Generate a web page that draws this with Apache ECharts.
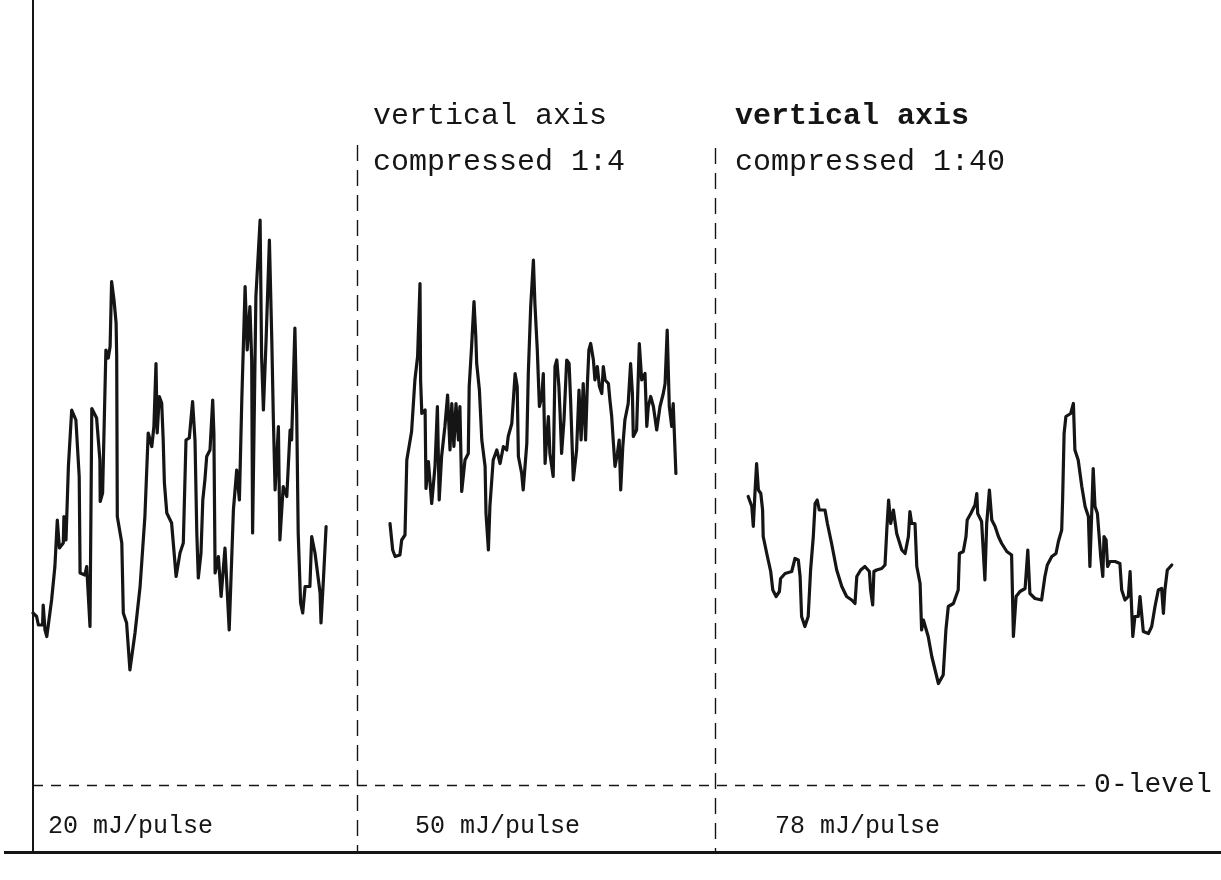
<!DOCTYPE html>
<html>
<head>
<meta charset="utf-8">
<script src="https://cdn.jsdelivr.net/npm/echarts@6/dist/echarts.min.js"></script>
<style>
  html, body { margin: 0; padding: 0; background: #fff; }
  #chart { width: 1221px; height: 880px; }
</style>
</head>
<body>
<div id="chart"></div>
<script>
// Time (arbitrary units) and signal amplitude above the 0-level, one trace per pulse energy.
const trace20mJ = [
  [0,34.4],[1.2,33.7],[1.8,32],[3.2,32],[3.4,36],[4,31],[4.6,29.7],[6.2,37],[7.3,43.7],[8.1,53],
  [8.8,47.4],[10.1,48.4],[10.3,53.7],[11,49],[11.8,63.7],[12.9,75],[14.3,73],[15.4,61.7],[15.7,42.4],[17.3,42],
  [17.9,43.7],[19,31.7],[19.6,75.3],[21.2,73.4],[22.3,65],[22.4,56.7],[23.2,58.4],[24.3,87],[25.1,85.4],[25.7,87.7],
  [26.2,100.7],[27,97],[27.7,92.4],[27.9,85.7],[28.1,53.7],[29.6,48.4],[30.1,34.4],[31.2,32.4],[32.3,23],[34,30.4],
  [35.7,39.7],[37.3,53.7],[38.4,70.4],[39.6,67.7],[40.3,71.7],[41,84.3],[41.4,70.4],[42.1,77.7],[42.9,76.4],[43.4,69],
  [43.8,60.4],[44.6,54.4],[46.2,52.4],[47.7,41.7],[49,46.4],[50.1,48.4],[51,69],[52.1,69.4],[53.2,76.7],[54,69],
  [54.6,50.4],[55.1,41.4],[56,46.4],[56.6,57],[57.3,61],[57.9,65.7],[59,67],[59.9,77],[60.3,70.4],[60.7,42.4],
  [61.8,45.7],[62.7,37.7],[64,47.4],[65.4,31],[66.8,55],[67.9,63],[68.8,57],[69.6,77],[70.7,99.7],[71.4,87],
  [72.3,95.7],[72.9,85],[73.2,50.4],[74.3,97.7],[75.7,113],[76.2,85.7],[76.8,75],[77.7,89],[78.8,109],[79.6,89],
  [80.1,73.7],[80.7,59],[81.8,71.7],[82.3,49],[83.4,59.7],[84.6,57.7],[85.7,71],[86.2,69],[87.3,91.4],[87.9,74.4],
  [88.4,50.4],[89.2,36.4],[89.9,34.4],[90.7,39.7],[92.3,39.7],[92.9,49.7],[94,46.4],[95.7,38.4],[96,32.4],[96.8,41],
  [97.7,51.7]
];

const trace50mJ = [
  [119,52.3],[119.9,47],[120.7,45.7],[122.3,46],[122.9,49],[124,50],[124.6,65],[126.2,70.7],[127.3,81],[128.2,85.7],
  [129,100.3],[129.2,81],[129.6,74.3],[130.7,75],[131,59.3],[131.8,64.7],[132.9,56.3],[134,63.7],[134.8,75.7],[135.4,57],
  [136.2,65.7],[137.3,71.7],[138.2,78],[139,67],[139.6,76.3],[140.3,67.7],[141,76.3],[141.8,69],[142.3,75.7],[142.9,58.7],
  [144,65],[145.1,66.3],[145.4,79.7],[146.2,87.7],[147,96.7],[147.6,89.7],[147.9,84.3],[148.8,79],[149.6,69],[150.7,63.7],
  [151,54.3],[151.8,47],[152.3,55.7],[153.4,65],[154.6,67],[155.7,64.3],[156.8,67.7],[157.9,67],[158.4,69.7],[159.6,72.3],
  [160.7,82.3],[161.4,79.7],[161.8,65.7],[162.9,62.3],[163.4,59],[164.6,68.3],[165.1,82.3],[165.9,95.7],[166.8,105],[167.3,96.3],
  [168.1,87],[168.8,75.7],[169.6,77.7],[170.1,82.3],[170.7,64.3],[171.2,69],[171.8,73.7],[172.3,66.3],[173.4,61.7],[174,83.7],
  [174.6,85],[175.3,79.7],[175.7,74.3],[176.2,66.3],[177,73],[177.9,85],[178.7,84.3],[179.2,77],[180.1,61],[181.2,67],
  [182,79],[182.7,69],[183.4,80.3],[184.2,69],[184.8,80.3],[185.3,87],[185.9,88.3],[186.8,85],[187.3,81],[188.1,83.7],
  [188.8,79.7],[189.6,78.3],[190.1,83.7],[190.7,81],[191.8,80.3],[192.3,77],[192.9,73.7],[193.4,69],[194,63.7],[194.8,66.3],
  [195.4,69],[195.9,59],[196.6,67.7],[197.3,73],[198.4,76.3],[199.2,84.3],[199.8,78.3],[200.1,69.7],[201.2,71],[202.1,88.3],
  [202.9,81],[204,82.3],[204.6,71.7],[205.1,75.7],[205.9,77.7],[206.8,75.7],[207.9,71],[209,75.7],[210.1,78.3],[210.7,80.3],
  [211.4,91],[212.1,75.7],[212.9,71.7],[213.4,76.3],[214.3,62.3]
];

const trace78mJ = [
  [238.4,57.7],[239.6,55.7],[240.1,51.7],[240.7,59],[241.2,64.3],[241.8,59],[242.6,58.3],[243.2,55],[243.4,49.7],[244.8,45.7],
  [245.9,42.7],[246.6,39],[247.7,37.7],[248.8,38.7],[249.2,41.3],[250.7,42.3],[252.9,42.7],[254,45.3],[255.1,45],[255.7,41.7],
  [256.2,33.7],[257.3,31.7],[258.4,33.7],[259.2,43],[260.1,49.7],[260.7,56.3],[261.4,57],[262.1,55],[264,55],[264.8,52.3],
  [266.2,48.3],[267.9,43],[269.6,39.7],[271.2,37.7],[272.9,37],[274,36.3],[274.6,41.7],[275.9,43],[277.3,43.7],[278.8,42.7],
  [279.2,39],[279.9,36],[280.3,42.7],[281.2,43],[282.9,43.3],[284,44],[284.6,51],[285.2,57],[285.9,52.3],[286.8,55],
  [287.9,50.3],[289.6,47],[290.7,46.3],[291.8,49.7],[292.3,54.7],[292.9,52.3],[294,52.3],[294.6,43.7],[295.7,40.3],[296.2,31],
  [296.8,33],[298.4,29.7],[299.6,25.7],[300.7,23],[301.8,20.3],[303.4,22],[304.3,31],[305.1,35.7],[306.8,36.3],[308.4,39],
  [308.8,46.3],[310.1,46.7],[311,49.7],[311.4,53],[312.6,54.3],[314,56],[314.6,58.3],[314.9,54.3],[316.2,52.7],[317.3,41],
  [317.9,52.3],[318.8,59],[319.6,53],[320.7,51.7],[321.8,49.7],[322.9,48.3],[324.6,46.7],[326.2,46],[326.8,29.7],[327.7,37.7],
  [329,38.7],[330.7,39.3],[331.6,47],[332.3,38.3],[334,37.3],[336.2,37],[337.3,41.7],[338.1,44],[339.6,45.7],[341,46.3],
  [341.8,48.7],[342.9,51],[343.2,57],[343.7,70.3],[344.3,73.7],[345.9,74.3],[346.8,76.3],[347.3,67],[348.4,65],[349.6,59.7],
  [350.7,55.7],[351.8,53.7],[352.3,43.7],[352.9,54.3],[353.4,63.3],[354,55.7],[354.8,54.3],[355.9,45.7],[356.6,41.7],[357,49.7],
  [357.7,49],[358.2,43.7],[359,44.7],[360.7,44.7],[362.3,44.3],[362.9,39],[364,37],[365.1,37.7],[365.7,42.7],[366.6,29.7],
  [367.3,33.7],[368.4,33.7],[369,37.7],[370.1,30.7],[371.8,30.3],[372.9,31.7],[374,35.7],[375.1,39],[376.2,39.3],[376.8,34.3],
  [377.3,39],[378.1,43],[379.6,44]
];

// Panel boundaries on the time axis and their labels
const panelBounds = [108, 227.3];
const panelLabels = ['20 mJ/pulse', '50 mJ/pulse', '78 mJ/pulse'];
const zeroLevelEnd = 350.7;
const zeroLevelLabel = '0-level';

const mono = '"Liberation Mono", "DejaVu Sans Mono", monospace';
const ink = '#151515';

const chart = echarts.init(document.getElementById('chart'), null, { renderer: 'canvas' });

const traceSeries = (name, data) => ({
  name,
  type: 'line',
  data,
  showSymbol: false,
  symbol: 'none',
  smooth: false,
  silent: true,
  lineStyle: { color: ink, width: 3.2, join: 'round', cap: 'round' },
  z: 5
});

const s1 = traceSeries('20 mJ/pulse', trace20mJ);
s1.markLine = {
  silent: true,
  symbol: 'none',
  animation: false,
  data: [
    [
      { coord: [0, 0], lineStyle: { type: [10, 8], width: 1.4, color: ink },
        label: { show: true, position: 'end', formatter: zeroLevelLabel, color: ink,
                 fontFamily: mono, fontSize: 28, distance: 9 } },
      { coord: [zeroLevelEnd, 0] }
    ],
    [
      { coord: [panelBounds[0], 128], lineStyle: { type: [16, 9], width: 1.4, color: ink }, label: { show: false } },
      { coord: [panelBounds[0], -13.4] }
    ],
    [
      { coord: [panelBounds[1], 127.4], lineStyle: { type: [16, 9], width: 1.4, color: ink }, label: { show: false } },
      { coord: [panelBounds[1], -13.4] }
    ]
  ]
};

const textEl = (text, x, y, size, weight) => ({
  type: 'text',
  x, y,
  silent: true,
  style: {
    text,
    fill: ink,
    font: (weight || 'normal') + ' ' + size + 'px ' + mono,
    align: 'left',
    verticalAlign: 'middle'
  }
});

chart.setOption({
  animation: false,
  backgroundColor: '#ffffff',
  grid: { left: 33, right: 0, top: 0, bottom: 28 },
  xAxis: {
    type: 'value',
    min: 0,
    max: 396,
    axisLine: { show: false },
    axisTick: { show: false },
    axisLabel: { show: false },
    splitLine: { show: false }
  },
  yAxis: {
    type: 'value',
    min: -13.4,
    max: 157,
    axisLine: { show: true, onZero: false, lineStyle: { color: ink, width: 2 } },
    axisTick: { show: false },
    axisLabel: { show: false },
    splitLine: { show: false }
  },
  series: [
    s1,
    traceSeries('50 mJ/pulse', trace50mJ),
    traceSeries('78 mJ/pulse', trace78mJ)
  ],
  graphic: [
    // baseline rule under the panel labels
    { type: 'line', silent: true, shape: { x1: 4, y1: 852.5, x2: 1221, y2: 852.5 },
      style: { stroke: ink, lineWidth: 3 } },
    textEl('vertical axis', 373, 116, 30),
    textEl('compressed 1:4', 373, 162, 30),
    textEl('vertical axis', 735, 116, 30, 'bold'),
    textEl('compressed 1:40', 735, 162, 30),
    textEl(panelLabels[0], 48, 826, 25),
    textEl(panelLabels[1], 415, 826, 25),
    textEl(panelLabels[2], 775, 826, 25)
  ]
});
</script>
</body>
</html>
